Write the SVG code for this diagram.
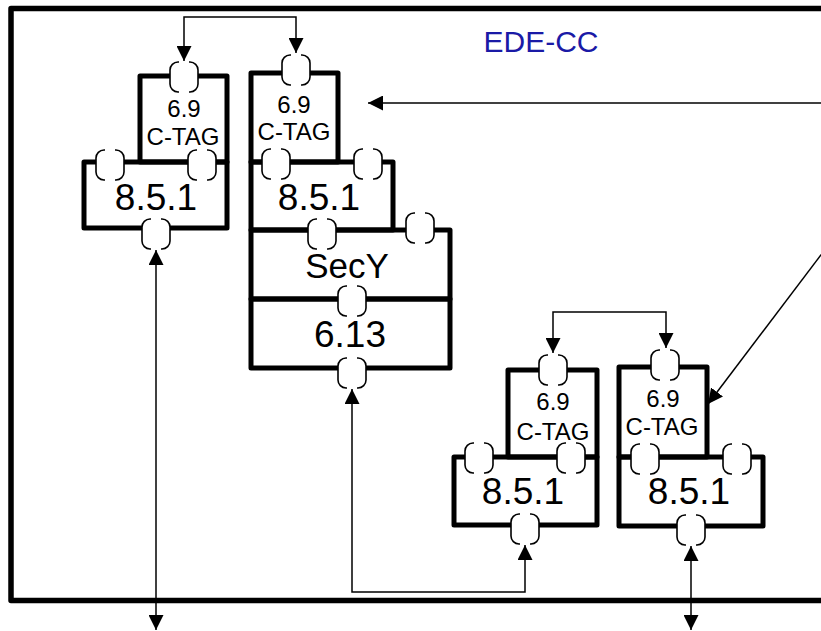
<svg xmlns="http://www.w3.org/2000/svg" xmlns:xlink="http://www.w3.org/1999/xlink" width="821" height="631" viewBox="0 0 821 631">
<style>
.box{fill:none;stroke:#000;stroke-width:5;stroke-linejoin:round}
.frame{fill:none;stroke:#000;stroke-width:5.5;stroke-linejoin:round}
.conn{fill:none;stroke:#000;stroke-width:1.5}
.t{font-family:"Liberation Sans",Arial,sans-serif;text-anchor:middle;fill:#000}
.s{font-size:24px}
.l{font-size:37px}
.m{font-size:35px}
.title{font-family:"Liberation Sans",Arial,sans-serif;font-size:30px;fill:#1a1aa6;text-anchor:middle}
</style>
<defs>
<marker id="ah" viewBox="0 0 15 15" refX="15" refY="7.5" markerWidth="15" markerHeight="15" markerUnits="userSpaceOnUse" orient="auto-start-reverse"><path d="M0,0 L15,7.5 L0,15 z" fill="#000"/></marker>
<g id="port"><rect x="-14" y="-15" width="28" height="30" rx="8" fill="#fff"/><path d="M-5,-15 H-6 A8,8 0 0 0 -14,-7 V7 A8,8 0 0 0 -6,15 H-5 M5,-15 H6 A8,8 0 0 1 14,-7 V7 A8,8 0 0 1 6,15 H5" fill="none" stroke="#000" stroke-width="1.6"/></g>
</defs>
<rect width="821" height="631" fill="#fff"/>
<rect class="frame" x="11" y="8.5" width="900" height="592"/>
<text class="title" x="541" y="52">EDE-CC</text>
<g id="connectors">
<path class="conn" d="M184,61 V17 H296 V53" marker-start="url(#ah)" marker-end="url(#ah)"/>
<path class="conn" d="M830,103 H368" marker-end="url(#ah)"/>
<path class="conn" d="M156,250 V630" marker-start="url(#ah)" marker-end="url(#ah)"/>
<path class="conn" d="M352,389 V592 H525 V545" marker-start="url(#ah)" marker-end="url(#ah)"/>
<path class="conn" d="M553,353 V312 H666 V348" marker-start="url(#ah)" marker-end="url(#ah)"/>
<path class="conn" d="M691,546 V630" marker-start="url(#ah)" marker-end="url(#ah)"/>
<path class="conn" d="M830,243 L708,404" marker-end="url(#ah)"/>
</g>
<g id="nodeA">
<rect class="box" x="140" y="76" width="87" height="86"/>
<rect class="box" x="84" y="162" width="143" height="66"/>
<use xlink:href="#port" x="184" y="77"/>
<use xlink:href="#port" x="110" y="165"/>
<use xlink:href="#port" x="202" y="165"/>
<use xlink:href="#port" x="156" y="234"/>
<text class="t s" x="184" y="117">6.9</text>
<text class="t s" x="183" y="145">C-TAG</text>
<text class="t l" x="156" y="210">8.5.1</text>
</g>
<g id="nodeB">
<rect class="box" x="251" y="73" width="87" height="89"/>
<rect class="box" x="251" y="162" width="142" height="68"/>
<rect class="box" x="251" y="230" width="199" height="69"/>
<rect class="box" x="251" y="299" width="199" height="69"/>
<use xlink:href="#port" x="296" y="70"/>
<use xlink:href="#port" x="276" y="164"/>
<use xlink:href="#port" x="368" y="164"/>
<use xlink:href="#port" x="322" y="234"/>
<use xlink:href="#port" x="420" y="228"/>
<use xlink:href="#port" x="352" y="301"/>
<use xlink:href="#port" x="352" y="373"/>
<text class="t s" x="294" y="113">6.9</text>
<text class="t s" x="294" y="140">C-TAG</text>
<text class="t l" x="319" y="210">8.5.1</text>
<text class="t m" x="347" y="278">SecY</text>
<text class="t l" x="350" y="347">6.13</text>
</g>
<g id="nodeC">
<rect class="box" x="508" y="370" width="89" height="87"/>
<rect class="box" x="454" y="457" width="143" height="68"/>
<use xlink:href="#port" x="553" y="370"/>
<use xlink:href="#port" x="479" y="458"/>
<use xlink:href="#port" x="571" y="458"/>
<use xlink:href="#port" x="525" y="529"/>
<text class="t s" x="553" y="410">6.9</text>
<text class="t s" x="553" y="440">C-TAG</text>
<text class="t l" x="523" y="504">8.5.1</text>
</g>
<g id="nodeD">
<rect class="box" x="619" y="367" width="88" height="90"/>
<rect class="box" x="619" y="457" width="144" height="69"/>
<use xlink:href="#port" x="665" y="365"/>
<use xlink:href="#port" x="645" y="459"/>
<use xlink:href="#port" x="737" y="459"/>
<use xlink:href="#port" x="691" y="530"/>
<text class="t s" x="663" y="407">6.9</text>
<text class="t s" x="662" y="435">C-TAG</text>
<text class="t l" x="689" y="504">8.5.1</text>
</g>
</svg>
